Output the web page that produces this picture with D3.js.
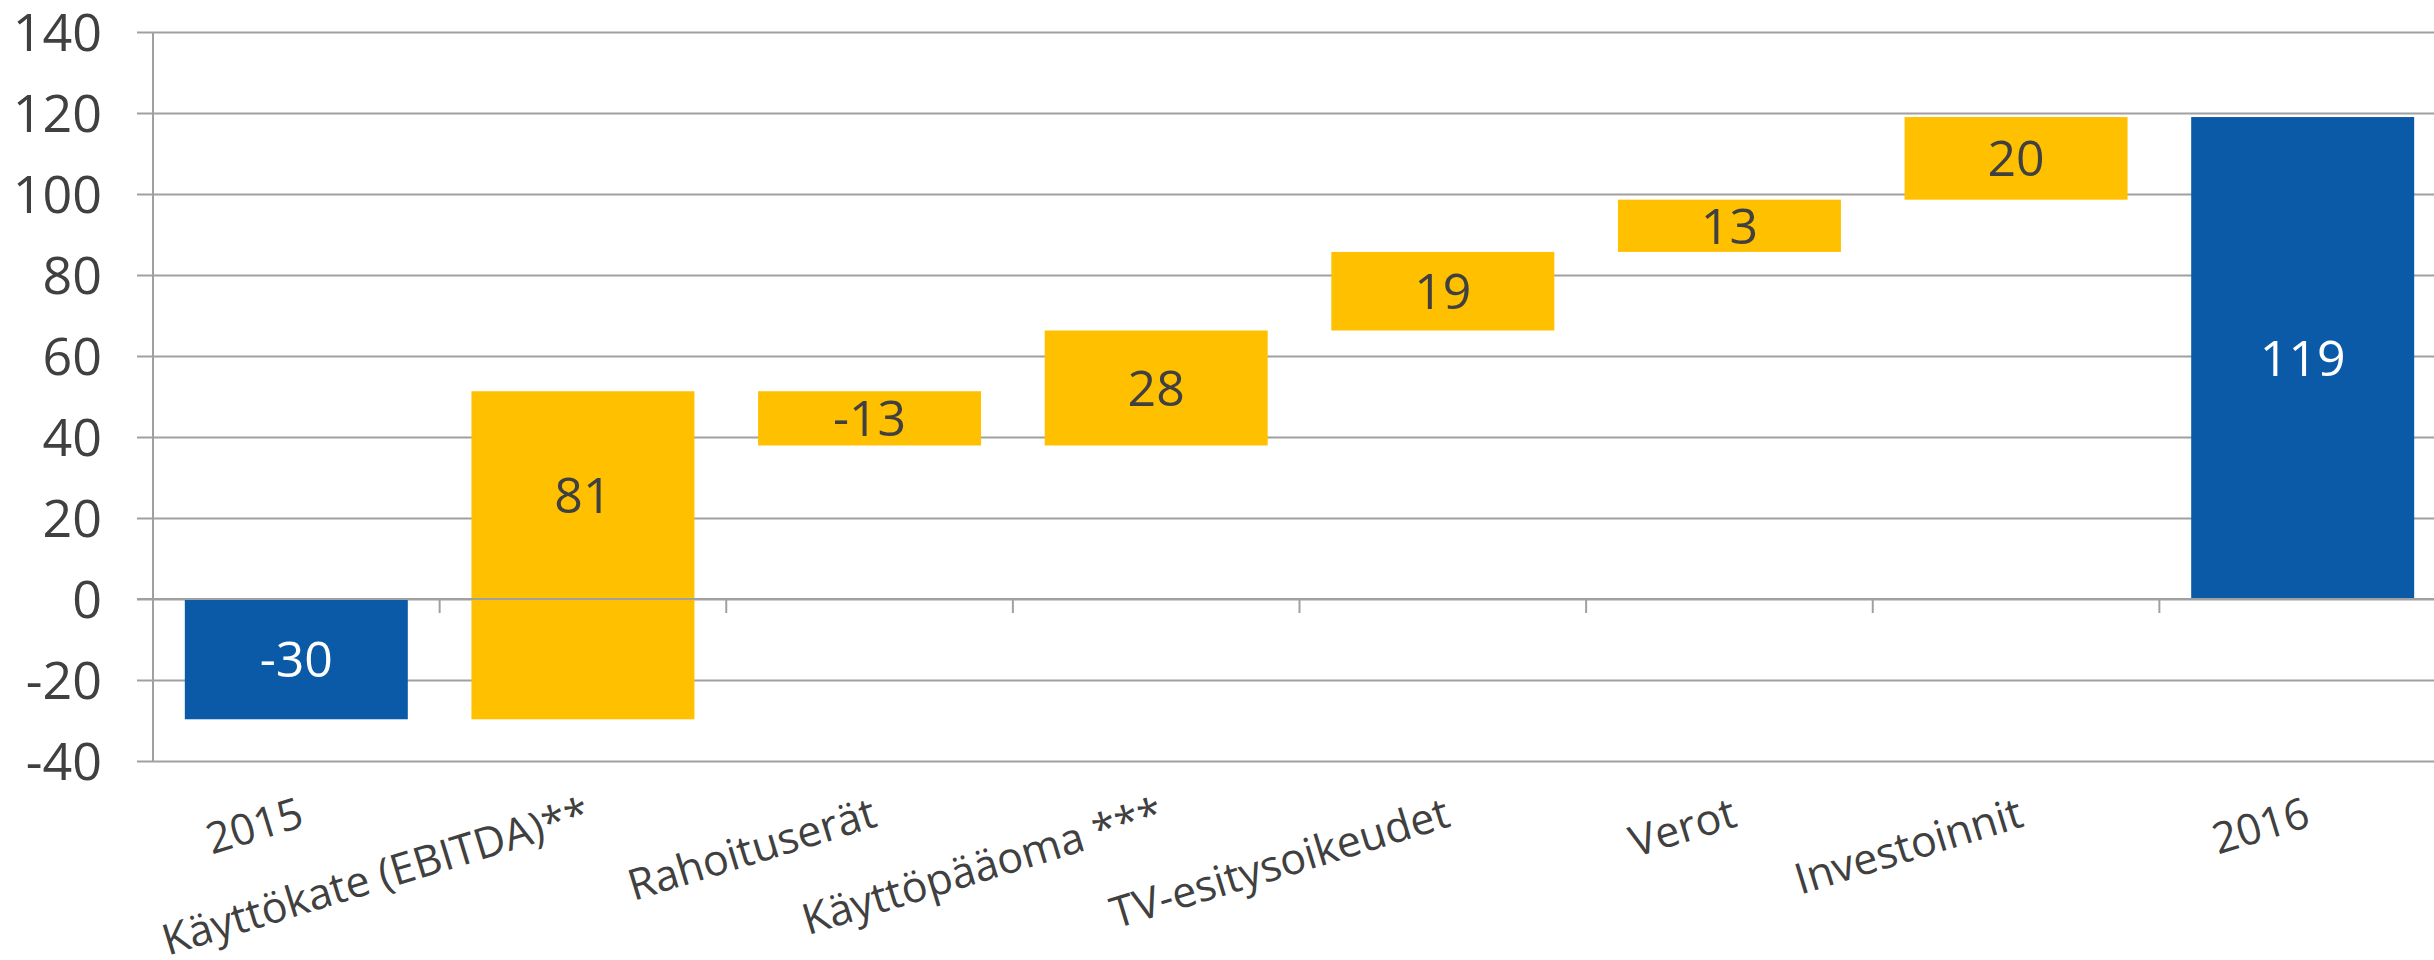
<!DOCTYPE html>
<html>
<head>
<meta charset="utf-8">
<script src="https://cdn.jsdelivr.net/npm/d3@7"></script>
<style>
  body { margin: 0; background: #fff; }
  text { font-family: "Open Sans", sans-serif; fill: #404040; }
</style>
</head>
<body>
<div id="chart"></div>
<script>
// data
var categories = ["2015", "Käyttökate (EBITDA)**", "Rahoituserät", "Käyttöpääoma ***",
                  "TV-esitysoikeudet", "Verot", "Investoinnit", "2016"];
var startValue = -29.7;
var changes = [81.0, -13.4, 28.4, 19.4, 12.9, 20.4];
var endValue = 119.0;
var yTicks = [-40, -20, 0, 20, 40, 60, 80, 100, 120, 140];

var width = 2434, height = 960;

// build the waterfall steps
var bars = [];
bars.push({cat: categories[0], lo: Math.min(0, startValue), hi: Math.max(0, startValue), value: startValue, total: true});
var run = startValue;
changes.forEach(function(d, i) {
  var next = run + d;
  bars.push({cat: categories[i + 1], lo: Math.min(run, next), hi: Math.max(run, next), value: d, total: false});
  run = next;
});
bars.push({cat: categories[categories.length - 1], lo: Math.min(0, endValue), hi: Math.max(0, endValue), value: endValue, total: true});

// scales
var pad = 0.222;
var x = d3.scaleBand().domain(categories).range([153, 2446]).paddingInner(pad).paddingOuter(pad / 2);
var y = d3.scaleLinear().domain([-40, 140]).range([761, 32]);

var svg = d3.select("#chart").append("svg")
    .attr("width", width)
    .attr("height", height);

// grid lines + y labels
var yAxis = svg.append("g")
    .attr("transform", "translate(137,0)")
    .call(d3.axisLeft(y).tickValues(yTicks).tickSize(-(width - 137)).tickPadding(35));
yAxis.select(".domain").remove();
yAxis.selectAll(".tick line").attr("stroke", "#a0a0a0").attr("stroke-width", 2);
yAxis.selectAll(".tick text")
    .attr("font-size", 52)
    .attr("dy", "0.36em")
    .attr("fill", "#404040")
    .style("font-family", "'Open Sans', sans-serif")
    .text(function(d) { return d < 0 ? "-" + Math.abs(d) : d; });

// vertical axis line
svg.append("line")
    .attr("x1", 153).attr("x2", 153)
    .attr("y1", y(140)).attr("y2", y(-40))
    .attr("stroke", "#a0a0a0").attr("stroke-width", 2);

// bars
svg.selectAll(".bar")
    .data(bars)
    .enter()
    .append("rect")
    .attr("class", "bar")
    .attr("x", function(d) { return x(d.cat); })
    .attr("width", x.bandwidth())
    .attr("y", function(d) { return y(d.hi); })
    .attr("height", function(d) { return y(d.lo) - y(d.hi); })
    .attr("fill", function(d) { return d.total ? "#0b5aa8" : "#ffc000"; });

// zero line with category ticks, on top of the bars
svg.append("line")
    .attr("x1", 137).attr("x2", width)
    .attr("y1", y(0)).attr("y2", y(0))
    .attr("stroke", "#a0a0a0").attr("stroke-width", 2);
svg.selectAll(".cat-tick")
    .data(categories.slice(1))
    .enter()
    .append("line")
    .attr("class", "cat-tick")
    .attr("x1", function(d) { return x(d) - x.step() * pad / 2; })
    .attr("x2", function(d) { return x(d) - x.step() * pad / 2; })
    .attr("y1", y(0)).attr("y2", y(0) + 14)
    .attr("stroke", "#a0a0a0").attr("stroke-width", 2);

// value labels
svg.selectAll(".val")
    .data(bars)
    .enter()
    .append("text")
    .attr("class", "val")
    .attr("x", function(d) { return x(d.cat) + x.bandwidth() / 2; })
    .attr("y", function(d) {
      var mid = (d.lo < 0 && d.hi > 0) ? d.hi / 2 : (d.lo + d.hi) / 2;
      return y(mid);
    })
    .attr("dy", "0.36em")
    .attr("text-anchor", "middle")
    .attr("font-size", 50)
    .style("fill", function(d) { return d.total ? "#ffffff" : "#404040"; })
    .text(function(d) { return Math.round(d.value); });

// category labels
svg.selectAll(".cat")
    .data(categories)
    .enter()
    .append("text")
    .attr("class", "cat")
    .attr("transform", function(d) {
      return "translate(" + (x(d) + x.bandwidth() / 2) + ",795) rotate(-17)";
    })
    .attr("dy", "0.75em")
    .attr("text-anchor", "end")
    .attr("font-size", 43)
    .text(function(d) { return d; });
</script>
</body>
</html>
